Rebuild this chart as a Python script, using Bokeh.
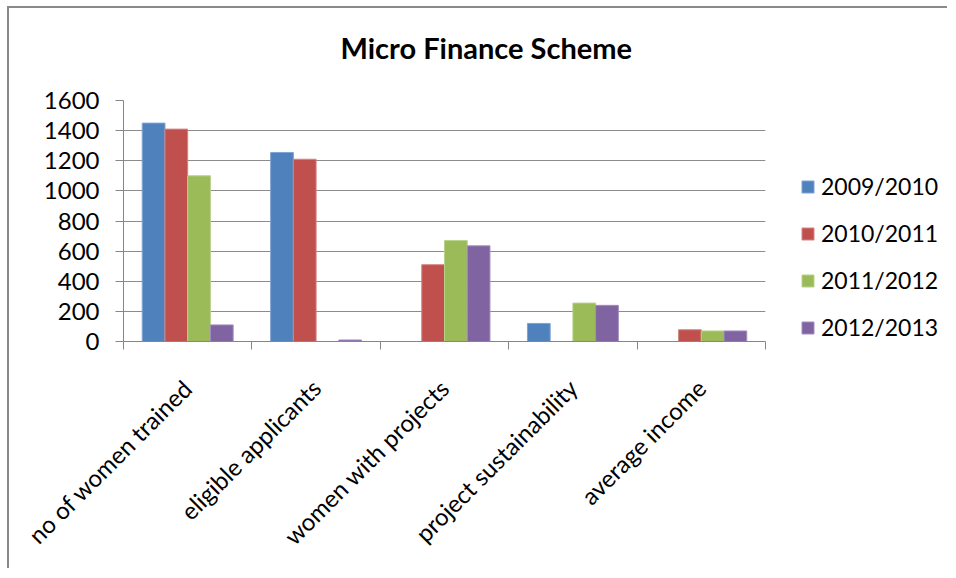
from bokeh.plotting import figure
from bokeh.models import Legend, LegendItem, FixedTicker, Range1d, Title
from bokeh.layouts import row
from bokeh.embed import file_html
from bokeh.resources import INLINE

# ---- data ----
categories = ["no of women trained", "eligible applicants", "women with projects",
              "project sustainability", "average income"]
series = ["2009/2010", "2010/2011", "2011/2012", "2012/2013"]
v_2009_2010 = [1450, 1255, 0, 120, 0]
v_2010_2011 = [1410, 1210, 510, 0, 78]
v_2011_2012 = [1100, 0, 670, 255, 70]
v_2012_2013 = [110, 10, 635, 240, 70]
y_ticks = [0, 200, 400, 600, 800, 1000, 1200, 1400, 1600]

values = [v_2009_2010, v_2010_2011, v_2011_2012, v_2012_2013]
colors = ["#4F81BD", "#C0504D", "#9BBB59", "#8064A2"]
edges = ["#7FA3D1", "#D48583", "#B8D18A", "#A28CBF"]

FONT = "Lato"

p = figure(width=766, height=560, output_backend="svg", toolbar_location=None,
           x_range=Range1d(0, len(categories)), y_range=Range1d(0, 1600),
           min_border_left=114, min_border_top=92, min_border_right=10,
           min_border_bottom=227)

p.outline_line_color = None
p.background_fill_color = "white"
p.border_fill_color = "white"

bar_w = 0.177
offsets = [-1.5 * bar_w, -0.5 * bar_w, 0.5 * bar_w, 1.5 * bar_w]
bar_xs = []
for s, vals, c, e, off in zip(series, values, colors, edges, offsets):
    xs = [i + 0.5 + off for i in range(len(categories))]
    bar_xs.append(xs)
    p.vbar(x=xs, top=vals, bottom=0, width=bar_w, fill_color=c,
           line_color=e, line_width=1)

# spacer between frame and title (pushes the title upward)
p.add_layout(Title(text=" ", text_font_size="10px", standoff=1), "above")

# title
p.title.text = "Micro Finance Scheme"
p.title.text_font = FONT
p.title.text_font_size = "29px"
p.title.text_font_style = "bold"
p.title.text_color = "black"
p.title.align = "left"
p.title.vertical_align = "top"
p.title.offset = 217
p.title.standoff = 40

# x axis
xa = p.xaxis[0]
xa.ticker = FixedTicker(ticks=[i + 0.5 for i in range(len(categories))],
                        minor_ticks=list(range(len(categories) + 1)))
xa.major_label_overrides = {i + 0.5: c for i, c in enumerate(categories)}
xa.major_tick_line_color = None
xa.major_tick_out = 0
xa.major_tick_in = 0
xa.minor_tick_line_color = "#868686"
xa.minor_tick_out = 8
xa.minor_tick_in = 0
xa.axis_line_color = "#868686"
xa.major_label_orientation = 0.785398
xa.major_label_text_font = FONT
xa.major_label_text_font_size = "24px"
xa.major_label_text_color = "black"
xa.major_label_standoff = 34

# y axis
ya = p.yaxis[0]
ya.ticker = FixedTicker(ticks=y_ticks)
ya.minor_tick_line_color = None
ya.major_tick_line_color = "#868686"
ya.major_tick_out = 8
ya.major_tick_in = 0
ya.axis_line_color = "#868686"
ya.major_label_text_font = FONT
ya.major_label_text_font_size = "24px"
ya.major_label_text_color = "black"
ya.major_label_standoff = 16

p.xgrid.grid_line_color = None
p.ygrid.grid_line_color = "#8c8c8c"
p.ygrid.grid_line_width = 1.2

# legend canvas to the right of the chart; its series renderers sit outside its
# view range, so only the legend shows
q = figure(width=172, height=560, output_backend="svg", toolbar_location=None,
           x_axis_location=None, y_axis_location=None,
           x_range=Range1d(-3, -2), y_range=Range1d(0, 1600),
           min_border_left=0, min_border_right=0, min_border_top=0, min_border_bottom=0)
q.outline_line_color = None
q.grid.visible = False
q.background_fill_color = "white"
q.border_fill_color = "white"
items = []
for s, vals, xs, c, e in zip(series, values, bar_xs, colors, edges):
    r = q.vbar(x=xs, top=vals, bottom=0, width=bar_w, fill_color=c,
               line_color=e, line_width=1)
    items.append(LegendItem(label=s, renderers=[r]))

legend = Legend(items=items, location=(25, 0), orientation="vertical")
legend.margin = 0
legend.padding = 10
legend.border_line_color = None
legend.background_fill_alpha = 0
legend.glyph_width = 15
legend.glyph_height = 15
legend.label_standoff = 6
legend.spacing = 19
legend.label_text_font = FONT
legend.label_text_font_size = "23px"
legend.label_text_color = "black"
q.add_layout(legend, "center")

layout = row(p, q, styles={"border-left": "2px solid #8a8a8a", "border-top": "2px solid #8a8a8a",
                           "margin-left": "7px", "margin-top": "6px"})

open("out.html", "w").write(file_html(layout, INLINE))
